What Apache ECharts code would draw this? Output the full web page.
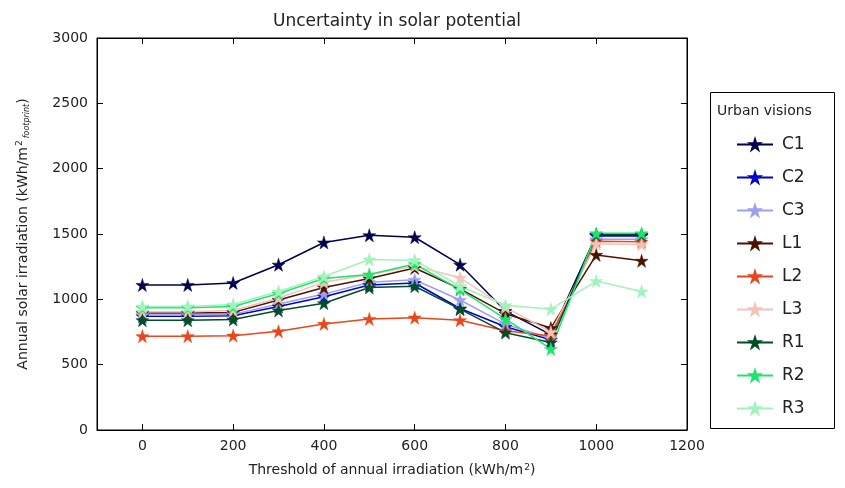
<!DOCTYPE html>
<html><head><meta charset="utf-8">
<script src="https://cdn.jsdelivr.net/npm/echarts@6/dist/echarts.min.js"></script>
<style>html,body{margin:0;padding:0;background:#fff}#c{width:845px;height:488px}</style>
</head><body><div id="c"></div>
<script>
const thresholds = [0,100,200,300,400,500,600,700,800,900,1000,1100];
const seriesNames = ['C1','C2','C3','L1','L2','L3','R1','R2','R3'];
const C1 = [1110,1110,1125,1265,1435,1490,1475,1265,910,730,1490,1490];
const C2 = [870,870,875,945,1020,1110,1125,930,790,690,1485,1485];
const C3 = [880,880,885,965,1040,1130,1150,995,810,700,1460,1460];
const L1 = [895,895,900,995,1090,1160,1240,1080,890,780,1340,1295];
const L2 = [718,718,722,755,812,850,860,840,760,720,1445,1440];
const L3 = [905,905,915,1010,1130,1190,1255,1165,940,750,1425,1420];
const R1 = [840,840,845,915,970,1090,1100,925,745,670,1495,1495];
const R2 = [935,935,945,1045,1160,1190,1270,1075,850,620,1505,1505];
const R3 = [945,945,960,1060,1175,1305,1300,1100,955,925,1140,1060];
const xTicks = [0,200,400,600,800,1000,1200];
const yTicks = [0,500,1000,1500,2000,2500,3000];
const colors = ['#00004d','#0000cc','#9f9fef','#4d1200','#e8461c','#f2c4b6','#004d26','#1ee46e','#a3f2bd'];
const values = [C1,C2,C3,L1,L2,L3,R1,R2,R3];

const font = 'DejaVu Sans';
const chart = echarts.init(document.getElementById('c'));
const series = seriesNames.map((n,i)=>({
  name:n, type:'line', xAxisIndex:0, yAxisIndex:0,
  data: thresholds.map((t,j)=>[t, values[i][j]]),
  symbol:'path://M50,0 L61.8,36.2 L100,36.2 L69.1,58.8 L80.9,95.1 L50,72.7 L19.1,95.1 L30.9,58.8 L0,36.2 L38.2,36.2 Z',
  symbolSize:13,
  lineStyle:{color:colors[i], width:1.5},
  itemStyle:{color:colors[i], borderColor:colors[i], borderWidth:0.5},
  emphasis:{disabled:true}, animation:false
}));
const axisCommon = {
  axisLine:{show:true, onZero:false, lineStyle:{color:'#000', width:1}},
  splitLine:{show:false},
};
const plain = v => String(v);
chart.setOption({
  animation:false,
  textStyle:{fontFamily:font},
  title:{text:'Uncertainty in solar potential', left:392, top:8, textAlign:'center',
    textStyle:{fontFamily:font, fontSize:17, fontWeight:'normal', color:'#222'}},
  grid:{left:97, right:158, top:38, bottom:58, show:true, borderColor:'#000', borderWidth:1},
  legend:{
    orient:'vertical', left:731, top:131, itemWidth:36, itemHeight:13, itemGap:16,
    data:seriesNames, textStyle:{fontFamily:font, fontSize:17, color:'#222', padding:[0,0,0,4]},
    selectedMode:false
  },
  graphic:[
    {type:'rect', shape:{x:710.5, y:92.5, width:124, height:336}, style:{fill:'none', stroke:'#000', lineWidth:1}, silent:true},
    {type:'text', left:717, top:104, style:{text:'Urban visions', font:'14px "DejaVu Sans"', fill:'#222'}}
  ],
  xAxis:[
    Object.assign({type:'value', min:-100, max:1200, position:'bottom',
      name:'Threshold of annual irradiation (kWh/m{sup|2})', nameLocation:'middle', nameGap:33,
      nameTextStyle:{fontFamily:font, fontSize:14, color:'#222', rich:{sup:{fontSize:9, verticalAlign:'top', padding:[0,0,6,1], fontFamily:font, color:'#222'}}},
      axisTick:{show:true, inside:true, length:6, customValues:xTicks, lineStyle:{color:'#000'}},
      axisLabel:{customValues:xTicks, formatter:plain, fontFamily:font, fontSize:14, color:'#222', margin:9}
    }, axisCommon),
    Object.assign({type:'value', min:-100, max:1200, position:'top',
      axisTick:{show:true, inside:true, length:6, customValues:xTicks, lineStyle:{color:'#000'}},
      axisLabel:{show:false}
    }, axisCommon)
  ],
  yAxis:[
    Object.assign({type:'value', min:0, max:3000, interval:500, position:'left',
      name:'Annual solar irradiation (kWh/m{sup|2}{sub|footprint})', nameLocation:'middle', nameGap:66, nameRotate:90,
      nameTextStyle:{fontFamily:font, fontSize:14, color:'#222', rich:{
        sup:{fontSize:9, verticalAlign:'top', padding:[0,0,6,1], fontFamily:font, color:'#222'},
        sub:{fontSize:8, fontStyle:'italic', verticalAlign:'bottom', padding:[8,0,0,2], fontFamily:font, color:'#222'}}},
      axisTick:{show:true, inside:true, length:6, lineStyle:{color:'#000'}},
      axisLabel:{formatter:plain, fontFamily:font, fontSize:14, color:'#222', margin:9}
    }, axisCommon),
    Object.assign({type:'value', min:0, max:3000, interval:500, position:'right',
      axisTick:{show:true, inside:true, length:6, lineStyle:{color:'#000'}},
      axisLabel:{show:false}
    }, axisCommon)
  ],
  series: series
});
</script></body></html>
